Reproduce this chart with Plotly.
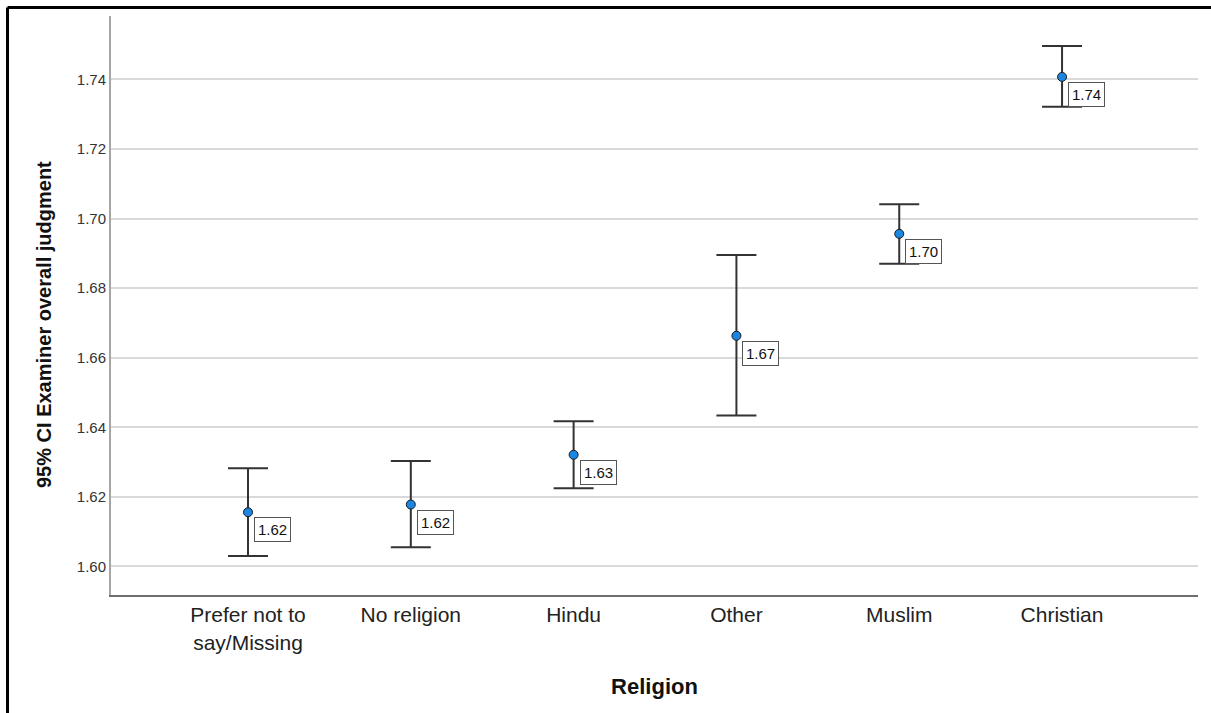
import plotly.graph_objects as go

categories = ["Prefer not to<br>say/Missing", "No religion", "Hindu", "Other", "Muslim", "Christian"]
means = [1.6156, 1.6178, 1.6321, 1.6663, 1.6956, 1.7407]
ci_upper = [1.6282, 1.6303, 1.6417, 1.6895, 1.7041, 1.7496]
ci_lower = [1.6030, 1.6055, 1.6225, 1.6434, 1.6870, 1.7321]
y_ticks = [1.60, 1.62, 1.64, 1.66, 1.68, 1.70, 1.72, 1.74]

W, H = 1211, 713
L, R, T, B = 111, 13, 16, 118
pw, ph = W - L - R, H - T - B

def px_x(p):
    return (p - L) / pw

def px_y(p):
    return (H - B - p) / ph

fig = go.Figure()
fig.add_trace(go.Scatter(
    x=categories, y=means, mode="markers",
    marker=dict(size=9, color="#1B87E0", line=dict(color="#1a1a1a", width=1)),
    error_y=dict(type="data", symmetric=False,
                 array=[u - m for u, m in zip(ci_upper, means)],
                 arrayminus=[m - l for m, l in zip(means, ci_lower)],
                 color="#333333", thickness=2, width=20),
    showlegend=False, hoverinfo="skip",
))

for c, m in zip(categories, means):
    fig.add_annotation(x=c, y=m, xref="x", yref="y", text=f"{m:.2f}",
                       showarrow=False, xanchor="left", yanchor="top",
                       xshift=6, yshift=-5,
                       font=dict(family="Arial", size=15, color="#111111"),
                       bgcolor="white", bordercolor="#555555", borderwidth=1, borderpad=3)

# y axis title as annotation (placed slightly below axis centre as in reference)
fig.add_annotation(x=px_x(44), y=px_y(325), xref="paper", yref="paper",
                   text="<b>95% CI Examiner overall judgment</b>", textangle=-90,
                   showarrow=False, xanchor="center", yanchor="middle",
                   font=dict(family="Arial", size=20, color="#111111"))

# outer frame (top and left edges)
fig.add_shape(type="line", xref="paper", yref="paper",
              x0=px_x(7.5), y0=px_y(7.5), x1=px_x(1215), y1=px_y(7.5),
              line=dict(color="black", width=3))
fig.add_shape(type="line", xref="paper", yref="paper",
              x0=px_x(7.5), y0=px_y(7.5), x1=px_x(7.5), y1=px_y(720),
              line=dict(color="black", width=3))

fig.update_layout(
    width=W, height=H,
    margin=dict(l=L, r=R, t=T, b=B, autoexpand=False),
    paper_bgcolor="white", plot_bgcolor="white",
    font=dict(family="Arial"),
    xaxis=dict(
        type="category", range=[-0.8415, 5.835],
        showgrid=False, showline=True, linecolor="#6e6e6e", linewidth=2,
        ticks="", tickfont=dict(family="Arial", size=21, color="#222222"),
        title=dict(text="<b>Religion</b>", font=dict(family="Arial", size=22, color="#111111"),
                   standoff=26),
        automargin=False, zeroline=False,
    ),
    yaxis=dict(
        range=[1.5918, 1.7582], tickvals=y_ticks, ticktext=[f"{v:.2f}" for v in y_ticks],
        showgrid=True, gridcolor="#d9d9d9", gridwidth=2,
        showline=True, linecolor="#a6a6a6", linewidth=2,
        ticks="", tickfont=dict(family="Arial", size=15, color="#333333"),
        automargin=False, zeroline=False,
    ),
)

fig.write_html("out.html", config={"displayModeBar": False},
               post_script="document.body.style.margin='0px';document.body.style.overflow='hidden';")
